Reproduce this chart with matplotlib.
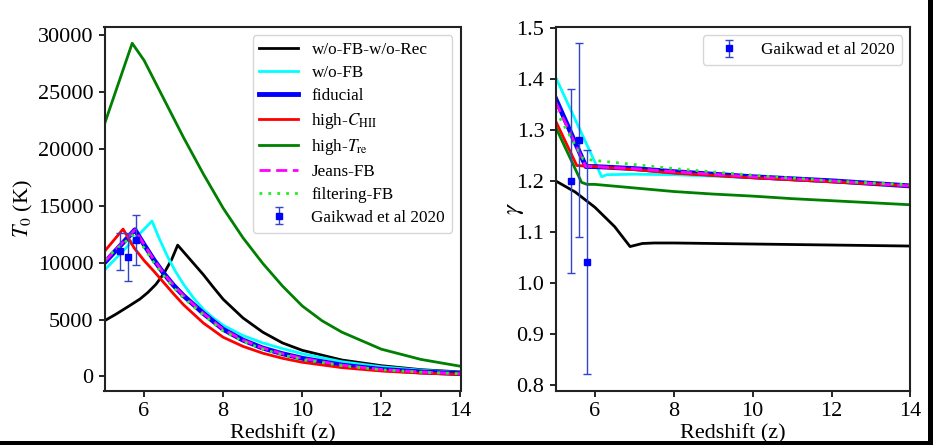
import matplotlib
matplotlib.use("Agg")
import matplotlib.pyplot as plt
from matplotlib.patches import Rectangle

plt.rcParams['font.family'] = ['Liberation Serif', 'DejaVu Serif']
plt.rcParams['mathtext.fontset'] = 'stix'

# ---------------- Left panel: T0 vs redshift ----------------
z_black = [5.0, 5.3, 5.6, 5.9, 6.1, 6.3, 6.5, 6.7, 6.85, 7.0, 7.25, 7.5, 7.75, 8.0, 8.5, 9.0, 9.5, 10, 11, 12, 13, 14]
T_black = [4900, 5500, 6150, 6820, 7400, 8100, 9050, 10300, 11550, 10950, 9950, 8950, 7850, 6790, 5150, 3900, 2950, 2300, 1450, 950, 600, 400]

z_cyan = [5.0, 6.2, 6.4, 6.6, 6.8, 7.0, 7.25, 7.5, 7.75, 8.0, 8.5, 9.0, 9.5, 10, 11, 12, 13, 14]
T_cyan = [9350, 13670, 12000, 10500, 9200, 8100, 6900, 5900, 5150, 4500, 3600, 2950, 2450, 2000, 1300, 850, 550, 350]

z_fid = [5.0, 5.77, 6.0, 6.25, 6.5, 6.75, 7.0, 7.5, 8.0, 8.5, 9.0, 9.5, 10, 11, 12, 13, 14]
T_fid = [10000, 12900, 11600, 10250, 9050, 8000, 7100, 5550, 4150, 3200, 2500, 2000, 1600, 1000, 620, 400, 250]

z_red = [5.0, 5.47, 5.75, 6.0, 6.25, 6.5, 6.75, 7.0, 7.5, 8.0, 8.5, 9.0, 9.5, 10, 11, 12, 13, 14]
T_red = [11000, 12960, 11300, 10200, 9250, 8250, 7250, 6300, 4700, 3450, 2650, 2050, 1600, 1250, 780, 480, 300, 180]

z_hiT = [5.0, 5.7, 6.0, 6.5, 7.0, 7.5, 8.0, 8.5, 9.0, 9.5, 10, 10.5, 11, 12, 13, 14]
T_hiT = [22200, 29300, 27800, 24400, 21000, 17800, 14800, 12200, 9950, 7950, 6200, 4900, 3900, 2400, 1500, 900]

z_jeans = [5.0, 5.77, 6.0, 6.25, 6.5, 6.75, 7.0, 7.5, 8.0, 8.5, 9.0, 9.5, 10, 11, 12, 13, 14]
T_jeans = [10100, 12900, 11600, 10250, 9050, 8000, 7100, 5550, 4150, 3200, 2500, 2000, 1600, 1000, 620, 400, 250]

z_filt = [5.0, 5.75, 6.0, 6.25, 6.5, 6.75, 7.0, 7.5, 8.0, 8.5, 9.0, 9.5, 10, 11, 12, 13, 14]
T_filt = [10300, 12500, 11300, 10000, 8850, 7800, 6900, 5400, 4000, 3100, 2400, 1900, 1500, 950, 590, 380, 240]

# Gaikwad et al 2020
z_obs = [5.4, 5.6, 5.8]
T_obs = [11000, 10500, 12000]
T_err = [1600, 2100, 2200]
g_obs = [1.20, 1.28, 1.04]
g_err = [0.18, 0.19, 0.22]

# ---------------- Right panel: gamma vs redshift ----------------
zg_black = [5.0, 5.5, 6.0, 6.5, 6.89, 7.2, 7.5, 8, 9, 10, 11, 12, 13, 14]
g_black = [1.200, 1.178, 1.148, 1.110, 1.071, 1.077, 1.078, 1.078, 1.077, 1.076, 1.075, 1.074, 1.073, 1.072]

zg_cyan = [5.0, 6.17, 6.3, 7, 8, 10, 12, 14]
g_cyan = [1.404, 1.208, 1.212, 1.213, 1.212, 1.206, 1.198, 1.190]

zg_fid = [5.0, 5.77, 6.0, 7, 8, 10, 12, 14]
g_fid = [1.362, 1.228, 1.228, 1.224, 1.218, 1.208, 1.200, 1.190]

zg_red = [5.0, 5.54, 6.0, 7, 8, 10, 12, 14]
g_red = [1.318, 1.230, 1.228, 1.222, 1.215, 1.206, 1.198, 1.190]

zg_hiT = [5.0, 5.66, 5.8, 6.0, 7, 8, 9, 10, 11, 12, 13, 14]
g_hiT = [1.306, 1.197, 1.193, 1.193, 1.186, 1.179, 1.174, 1.170, 1.165, 1.161, 1.157, 1.153]

zg_jeans = [5.0, 5.77, 6.0, 7, 8, 10, 12, 14]
g_jeans = [1.355, 1.228, 1.228, 1.224, 1.218, 1.208, 1.200, 1.190]

zg_filt = [5.0, 5.7, 6.0, 7, 8, 10, 12, 14]
g_filt = [1.338, 1.243, 1.240, 1.232, 1.224, 1.211, 1.200, 1.192]

labels = ['w/o-FB-w/o-Rec', 'w/o-FB', 'fiducial', r'high-$C_{\rm HII}$',
          r'high-$T_{\rm re}$', 'Jeans-FB', 'filtering-FB']
obs_label = 'Gaikwad et al 2020'

fig = plt.figure(figsize=(9.33, 4.45), dpi=100)
W, H = 933.0, 445.0
ax1 = fig.add_axes([104.5 / W, 1 - 391 / H, 356 / W, (391 - 26.7) / H])
ax2 = fig.add_axes([555.5 / W, 1 - 391 / H, 355 / W, (391 - 26.7) / H])

styles = [dict(color='black', lw=2.0),
          dict(color='cyan', lw=2.0),
          dict(color='blue', lw=3.5),
          dict(color='red', lw=2.0),
          dict(color='green', lw=2.0),
          dict(color='magenta', lw=2.0, ls=(0, (4, 2))),
          dict(color='#22ee22', lw=2.0, ls=(0, (1, 2.2)))]

left_data = [(z_black, T_black), (z_cyan, T_cyan), (z_fid, T_fid), (z_red, T_red),
             (z_hiT, T_hiT), (z_jeans, T_jeans), (z_filt, T_filt)]
right_data = [(zg_black, g_black), (zg_cyan, g_cyan), (zg_fid, g_fid), (zg_red, g_red),
              (zg_hiT, g_hiT), (zg_jeans, g_jeans), (zg_filt, g_filt)]

for (x, y), st, lab in zip(left_data, styles, labels):
    ax1.plot(x, y, label=lab, **st)
for (x, y), st in zip(right_data, styles):
    ax2.plot(x, y, **st)

ax1.errorbar(z_obs, T_obs, yerr=T_err, fmt='s', color='blue', ms=5, capsize=3,
             elinewidth=1.0, ecolor='#3344cc', label=obs_label)
ax2.errorbar(z_obs, g_obs, yerr=g_err, fmt='s', color='blue', ms=5, capsize=3,
             elinewidth=1.0, ecolor='#3344cc', label=obs_label)

for ax in (ax1, ax2):
    ax.set_xlim(5, 14)
    ax.set_xticks([6, 8, 10, 12, 14])
    ax.set_xlabel('Redshift (z)', fontsize=16, labelpad=2)
    ax.tick_params(labelsize=16, direction='out', length=4, width=1.2, pad=4)
    for s in ax.spines.values():
        s.set_linewidth(1.5)
        s.set_color('#222222')

ax1.set_yticks([0, 5000, 10000, 15000, 20000, 25000, 30000])
ax1.set_ylabel(r'$T_0$ (K)', fontsize=16, labelpad=2)
ax2.set_yticks([0.8, 0.9, 1.0, 1.1, 1.2, 1.3, 1.4, 1.5])
ax2.set_ylabel(r'$\gamma$', fontsize=18, labelpad=-7)

ax1.legend(loc='upper right', fontsize=12.3, handlelength=2.25, labelspacing=0.4)
ax2.legend(loc='upper right', fontsize=12.3, handlelength=2.25)

# screenshot border
fig.add_artist(Rectangle((928 / W, 0), 5 / W, 1, transform=fig.transFigure,
                         color='black', lw=0))
fig.add_artist(Rectangle((0, 0), 1, 4 / H, transform=fig.transFigure,
                         color='black', lw=0))

fig.savefig('out.png', dpi=100)
